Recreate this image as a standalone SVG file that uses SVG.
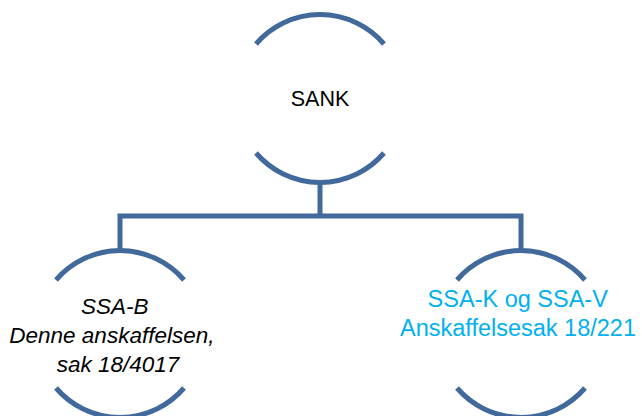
<svg xmlns="http://www.w3.org/2000/svg" width="642" height="416" viewBox="0 0 642 416">
<style>
.arc{fill:none;stroke:#41699C;stroke-width:5}
.conn{fill:none;stroke:#41699C;stroke-width:5;stroke-linejoin:miter}
.t{font-family:"Liberation Sans",Arial,sans-serif;text-anchor:middle}
</style>
<rect width="642" height="416" fill="#ffffff"/>
<g id="connectors">
<path class="conn" d="M120,250 V216 H521 V250"/>
<path class="conn" d="M320,182 V216"/>
</g>
<g id="node-sank">
<path class="arc" d="M256,44 A84.4,84.4 0 0 1 384,44"/>
<path class="arc" d="M256,153 A84.4,84.4 0 0 0 384,153"/>
<text class="t" x="320" y="106" font-size="21.5" fill="#000000">SANK</text>
</g>
<g id="node-ssab">
<path class="arc" d="M56,280 A84.4,84.4 0 0 1 184,280"/>
<path class="arc" d="M56,388 A84.4,84.4 0 0 0 184,388"/>
<text class="t" font-size="22.5" font-style="italic" fill="#000000">
<tspan x="118" y="314">SSA-B</tspan>
<tspan x="115" y="343">Denne anskaffelsen,</tspan>
<tspan x="118" y="372">sak 18/4017</tspan>
</text>
</g>
<g id="node-ssakv">
<path class="arc" d="M457,280 A84.4,84.4 0 0 1 585,280"/>
<path class="arc" d="M457,388 A84.4,84.4 0 0 0 585,388"/>
<text class="t" font-size="23.5" fill="#00B0F0">
<tspan x="521" y="307">SSA-K og SSA-V</tspan>
<tspan x="518" y="336">Anskaffelsesak 18/221</tspan>
</text>
</g>
</svg>
